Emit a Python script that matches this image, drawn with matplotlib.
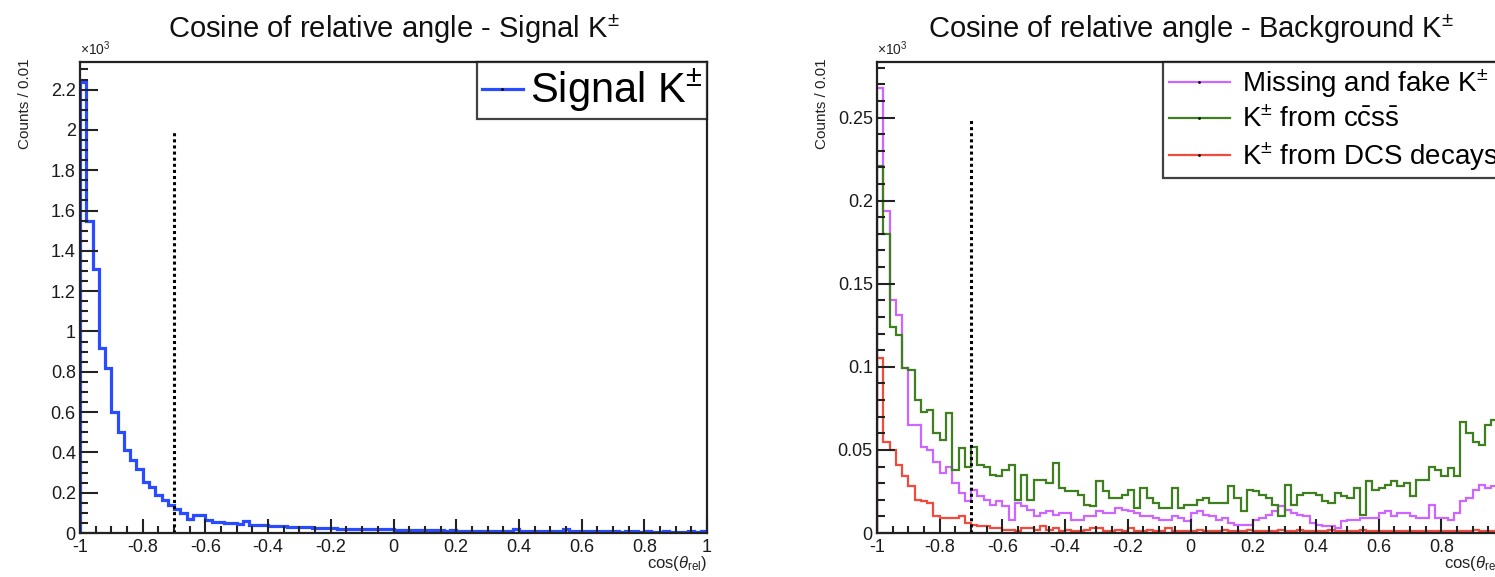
import numpy as np
import matplotlib.pyplot as plt
from matplotlib.lines import Line2D
from matplotlib.ticker import MultipleLocator, FuncFormatter

plt.rcParams['font.family'] = ['Liberation Sans', 'DejaVu Sans']
plt.rcParams['mathtext.fontset'] = 'custom'
plt.rcParams['mathtext.rm'] = 'Liberation Sans'
plt.rcParams['mathtext.it'] = 'Liberation Sans:italic'
plt.rcParams['mathtext.bf'] = 'Liberation Sans:bold'
plt.rcParams['axes.unicode_minus'] = False

# 100 bins over cos(theta_rel) in [-1, 1]
bin_edges = np.linspace(-1, 1, 101)

# signal K+-, counts in units of 10^3
signal = [2.24, 1.55, 1.31, 0.92, 0.82, 0.60, 0.50, 0.41, 0.36, 0.32,
          0.255, 0.23, 0.19, 0.165, 0.14, 0.12, 0.10, 0.07, 0.09, 0.09,
          0.065, 0.057, 0.055, 0.05, 0.048, 0.045, 0.06, 0.042, 0.04, 0.038,
          0.036, 0.034, 0.033, 0.031, 0.030, 0.029, 0.028, 0.026, 0.025, 0.024,
          0.023, 0.022, 0.022, 0.021, 0.020, 0.020, 0.019, 0.019, 0.018, 0.018,
          0.016, 0.015, 0.016, 0.014, 0.015, 0.014, 0.013, 0.014, 0.012, 0.013,
          0.012, 0.012, 0.011, 0.012, 0.011, 0.010, 0.011, 0.010, 0.010, 0.018,
          0.011, 0.010, 0.010, 0.009, 0.010, 0.009, 0.009, 0.018, 0.009, 0.008,
          0.009, 0.008, 0.008, 0.009, 0.008, 0.008, 0.007, 0.008, 0.008, 0.007,
          0.008, 0.007, 0.007, 0.008, 0.007, 0.007, 0.007, 0.008, 0.007, 0.008]

# background K+-, counts in units of 10^3
missing_fake = [0.268, 0.194, 0.140, 0.131, 0.099, 0.065, 0.065, 0.052, 0.050, 0.043,
                0.036, 0.040, 0.030, 0.024, 0.019, 0.026, 0.022, 0.020, 0.017, 0.019,
                0.016, 0.008, 0.018, 0.016, 0.014, 0.010, 0.012, 0.013, 0.011, 0.012,
                0.012, 0.008, 0.008, 0.010, 0.010, 0.013, 0.012, 0.012, 0.015, 0.014,
                0.013, 0.012, 0.010, 0.010, 0.009, 0.008, 0.008, 0.010, 0.009, 0.007,
                0.012, 0.013, 0.011, 0.010, 0.008, 0.009, 0.006, 0.005, 0.005, 0.005,
                0.008, 0.009, 0.011, 0.013, 0.016, 0.014, 0.012, 0.011, 0.010, 0.006,
                0.005, 0.004, 0.004, 0.003, 0.007, 0.008, 0.008, 0.009, 0.009, 0.009,
                0.012, 0.013, 0.010, 0.012, 0.012, 0.010, 0.009, 0.009, 0.017, 0.009,
                0.009, 0.008, 0.012, 0.019, 0.021, 0.026, 0.029, 0.027, 0.028, 0.027]

ccss = [0.221, 0.180, 0.124, 0.119, 0.099, 0.098, 0.080, 0.073, 0.074, 0.060,
        0.056, 0.072, 0.038, 0.051, 0.040, 0.052, 0.041, 0.040, 0.035, 0.034,
        0.038, 0.041, 0.020, 0.035, 0.020, 0.032, 0.032, 0.030, 0.042, 0.027,
        0.025, 0.025, 0.023, 0.017, 0.016, 0.031, 0.025, 0.021, 0.021, 0.023,
        0.026, 0.015, 0.027, 0.021, 0.018, 0.015, 0.015, 0.027, 0.015, 0.017,
        0.017, 0.020, 0.021, 0.018, 0.018, 0.018, 0.028, 0.021, 0.013, 0.026,
        0.025, 0.023, 0.021, 0.017, 0.010, 0.029, 0.017, 0.023, 0.024, 0.024,
        0.023, 0.019, 0.018, 0.024, 0.022, 0.021, 0.027, 0.011, 0.031, 0.026,
        0.027, 0.029, 0.031, 0.028, 0.030, 0.022, 0.032, 0.032, 0.040, 0.038,
        0.034, 0.039, 0.034, 0.067, 0.060, 0.055, 0.053, 0.065, 0.068, 0.070]

dcs = [0.105, 0.055, 0.050, 0.041, 0.034, 0.028, 0.020, 0.019, 0.018, 0.010,
       0.009, 0.009, 0.009, 0.010, 0.006, 0.005, 0.004, 0.004, 0.003, 0.003,
       0.002, 0.002, 0.001, 0.003, 0.003, 0.002, 0.004, 0.002, 0.003, 0.001,
       0.002, 0.001, 0.001, 0.002, 0.003, 0.003, 0.001, 0.001, 0.002, 0.001,
       0.003, 0.001, 0.001, 0.002, 0.001, 0.001, 0.003, 0.001, 0.001, 0.001,
       0.001, 0.002, 0.001, 0.001, 0.001, 0.002, 0.001, 0.001, 0.001, 0.002,
       0.001, 0.001, 0.001, 0.001, 0.002, 0.001, 0.001, 0.002, 0.001, 0.001,
       0.001, 0.001, 0.002, 0.001, 0.001, 0.001, 0.001, 0.002, 0.001, 0.001,
       0.001, 0.001, 0.001, 0.001, 0.001, 0.001, 0.001, 0.001, 0.001, 0.001,
       0.001, 0.001, 0.001, 0.001, 0.001, 0.002, 0.001, 0.001, 0.001, 0.001]

cut = -0.7
signal_cut_top = 2.0
bkg_cut_top = 0.25

fig = plt.figure(figsize=(14.95, 5.77), dpi=100)
ax1 = fig.add_axes([80 / 1495, 44 / 577, 627 / 1495, 471 / 577])
# right pad runs a little past the picture edge, as in the original
ax2 = fig.add_axes([877 / 1495, 44 / 577, 627 / 1495, 471 / 577])

fmt = FuncFormatter(lambda v, p: '%g' % (round(v, 6) + 0.0))


def style(ax, ymax, ymajor, yminor, title):
    ax.set_xlim(-1, 1)
    ax.set_ylim(0, ymax)
    ax.xaxis.set_major_locator(MultipleLocator(0.2))
    ax.xaxis.set_minor_locator(MultipleLocator(0.05))
    ax.yaxis.set_major_locator(MultipleLocator(ymajor))
    ax.yaxis.set_minor_locator(MultipleLocator(yminor))
    ax.xaxis.set_major_formatter(fmt)
    ax.yaxis.set_major_formatter(fmt)
    ax.tick_params(which='both', direction='in', top=False, right=False,
                   width=1.5, color='#222222', labelsize=13, labelcolor='#1a1a1a')
    ax.tick_params(axis='y', which='major', length=13, pad=3)
    ax.tick_params(axis='y', which='minor', length=6)
    ax.tick_params(axis='x', which='major', length=10, pad=4)
    ax.tick_params(axis='x', which='minor', length=5)
    for s in ax.spines.values():
        s.set_linewidth(1.6)
        s.set_color('#222222')
    ax.set_title(title, fontsize=21, pad=17, color='#111111')
    ax.set_ylabel('Counts / 0.01', fontsize=11, loc='top', color='#222222')
    ax.yaxis.set_label_coords(-0.077, 1.008)
    ax.set_xlabel(r'cos($\theta_{\rm rel}$)', fontsize=12, loc='right', color='#222222')
    ax.xaxis.set_label_coords(1.0, -0.045)
    ax.xaxis.label.set_va('top')
    ax.text(0.0, 1.008, r'$\times10^{3}$', transform=ax.transAxes,
            fontsize=10, ha='left', va='bottom', color='#222222')


# left panel: signal
ax1.stairs(signal, bin_edges, color='#2a4cff', linewidth=2.3)
ax1.plot([cut, cut], [0, signal_cut_top], color='black', linestyle=(0, (1, 1)), linewidth=2.2)
style(ax1, 2.337, 0.2, 0.05, r'Cosine of relative angle - Signal K$^{\pm}$')
h1 = [Line2D([], [], color='#2a4cff', linewidth=2.3, marker='.', markersize=2,
             markerfacecolor='k', markeredgecolor='k')]
leg1 = ax1.legend(h1, [r'Signal K$^{\pm}$'], loc='upper right', fontsize=30,
                  frameon=True, fancybox=False, borderaxespad=0, borderpad=0.12,
                  handlelength=1.0, handletextpad=0.15)
leg1.get_frame().set_edgecolor('#111111')
leg1.get_frame().set_linewidth(1.6)

# right panel: background
col_mis = '#cc66ff'
col_ccss = '#3f7f1f'
col_dcs = '#f24a3c'
ax2.stairs(missing_fake, bin_edges, color=col_mis, linewidth=1.6)
ax2.stairs(ccss, bin_edges, color=col_ccss, linewidth=1.6)
ax2.stairs(dcs, bin_edges, color=col_dcs, linewidth=1.6)
ax2.plot([cut, cut], [0, bkg_cut_top], color='black', linestyle=(0, (1, 1)), linewidth=2.2)
style(ax2, 0.2834, 0.05, 0.01, r'Cosine of relative angle - Background K$^{\pm}$')
h2 = [Line2D([], [], color=c, linewidth=1.6, marker='.', markersize=2,
             markerfacecolor='k', markeredgecolor='k') for c in (col_mis, col_ccss, col_dcs)]
labels2 = [r'Missing and fake K$^{\pm}$',
           r'K$^{\pm}$ from $\mathrm{c\bar{c}s\bar{s}}$',
           r'K$^{\pm}$ from DCS decays']
leg2 = ax2.legend(h2, labels2, loc='upper right', fontsize=20,
                  frameon=True, fancybox=False, borderaxespad=0, borderpad=0.2,
                  handlelength=2.2, handletextpad=0.45, labelspacing=0.25)
leg2.get_frame().set_edgecolor('#111111')
leg2.get_frame().set_linewidth(1.6)

fig.savefig('out.png', dpi=100)
